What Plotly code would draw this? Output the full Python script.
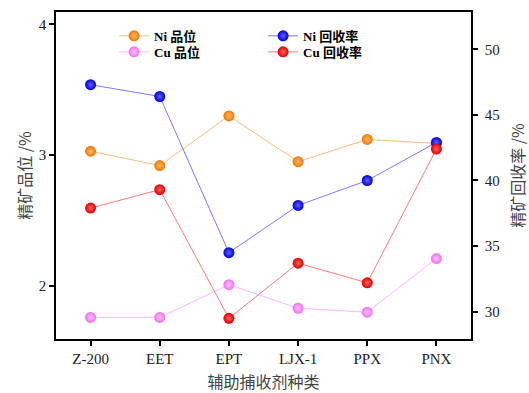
import plotly.graph_objects as go

categories = ["Z-200", "EET", "EPT", "LJX-1", "PPX", "PNX"]
ni_grade = [3.03, 2.92, 3.30, 2.95, 3.12, 3.09]
cu_grade = [1.76, 1.76, 2.01, 1.83, 1.80, 2.21]
ni_recovery = [47.3, 46.4, 34.5, 38.1, 40.0, 42.9]
cu_recovery = [37.9, 39.3, 29.5, 33.7, 32.2, 42.4]

left_ticks = [2, 3, 4]
right_ticks = [30, 35, 40, 45, 50]

serif = "Liberation Serif, Times New Roman, serif"
cjk = "Noto Sans CJK SC, sans-serif"
legend_font = dict(family="Liberation Serif, Noto Sans CJK SC", size=13, color="black", weight="bold")


def series(name, y, color, tint, line_color, axis, legend):
    return go.Scatter(
        x=categories, y=y, name=name, mode="lines+markers", yaxis=axis, legend=legend,
        line=dict(color=line_color, width=1),
        marker=dict(size=11, color=color, line=dict(width=0),
                    gradient=dict(type="radial", color=tint)),
    )


fig = go.Figure()
fig.add_trace(series("Ni 品位", ni_grade, "#f07800", "#ffb870", "#f9bd7c", "y", "legend"))
fig.add_trace(series("Cu 品位", cu_grade, "#f070f0", "#ffc0ff", "#ffb8ff", "y", "legend2"))
fig.add_trace(series("Ni 回收率", ni_recovery, "#0000dd", "#6060ff", "#7b7bff", "y2", "legend3"))
fig.add_trace(series("Cu 回收率", cu_recovery, "#e00000", "#ff6060", "#ff7b7b", "y2", "legend4"))

axis_common = dict(showline=True, linecolor="black", linewidth=1.5, ticks="outside",
                   ticklen=5, tickwidth=1.5, tickcolor="black", showgrid=False, zeroline=False,
                   automargin=False,
                   tickfont=dict(family=serif, size=15, color="#222"))

def leg(x, y):
    return dict(x=x, y=y, xanchor="left", yanchor="middle", bgcolor="rgba(0,0,0,0)",
                font=legend_font, itemwidth=30, borderwidth=0)

fig.update_layout(
    width=529, height=393,
    margin=dict(l=56, r=58, t=12, b=54),
    paper_bgcolor="white", plot_bgcolor="white",
    xaxis=dict(**axis_common, type="category", range=[-0.5, 5.5], mirror=True,
               title=dict(text="辅助捕收剂种类", font=dict(family=cjk, size=16, color="#444"), standoff=13)),
    yaxis=dict(**axis_common, range=[1.595, 4.094], tickvals=left_ticks,
               title=dict(text="精矿品位 /%", font=dict(family=cjk, size=16, color="#444"), standoff=3)),
    yaxis2=dict(**axis_common, range=[27.92, 52.84], tickvals=right_ticks, overlaying="y", side="right",
                ticklabelstandoff=4,
                title=dict(text="精矿回收率 /%", font=dict(family=cjk, size=16, color="#444"), standoff=15)),
    legend=leg(0.14, 0.927),
    legend2=leg(0.14, 0.878),
    legend3=leg(0.499, 0.927),
    legend4=leg(0.499, 0.878),
    showlegend=True,
)

fig.write_html("out.html", config={"displayModeBar": False},
               post_script="document.body.style.margin='0';")
